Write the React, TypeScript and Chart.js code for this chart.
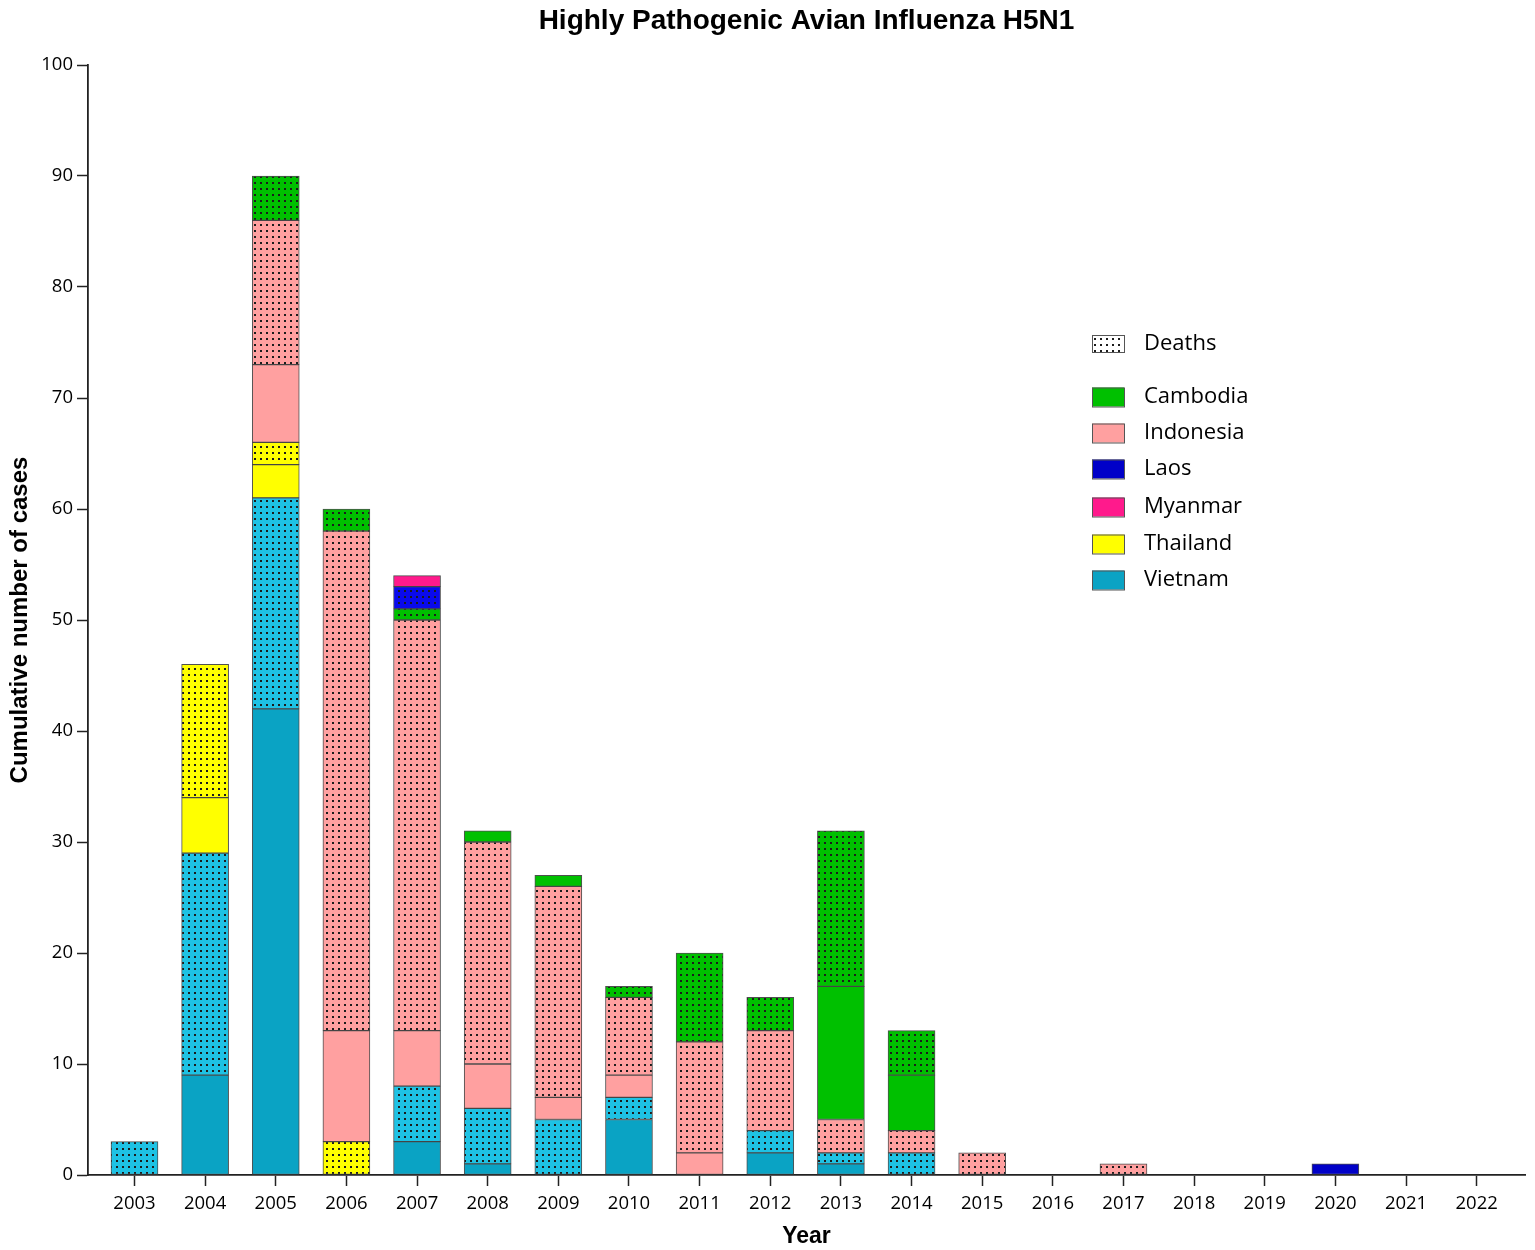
import React, { useEffect, useRef } from "react";
import { Chart, registerables } from "chart.js";

Chart.register(...registerables);

// ---------- data ----------
const years = [2003, 2004, 2005, 2006, 2007, 2008, 2009, 2010, 2011, 2012, 2013, 2014, 2015, 2016, 2017, 2018, 2019, 2020, 2021, 2022];

// non-fatal cases (solid) and deaths (dotted), per year
const vietnamCases = [0, 9, 42, 0, 3, 1, 0, 5, 0, 2, 1, 0, 0, 0, 0, 0, 0, 0, 0, 0];
const vietnamDeaths = [3, 20, 19, 0, 5, 5, 5, 2, 0, 2, 1, 2, 0, 0, 0, 0, 0, 0, 0, 0];
const thailandCases = [0, 5, 3, 0, 0, 0, 0, 0, 0, 0, 0, 0, 0, 0, 0, 0, 0, 0, 0, 0];
const thailandDeaths = [0, 12, 2, 3, 0, 0, 0, 0, 0, 0, 0, 0, 0, 0, 0, 0, 0, 0, 0, 0];
const indonesiaCases = [0, 0, 7, 10, 5, 4, 2, 2, 2, 0, 0, 0, 0, 0, 0, 0, 0, 0, 0, 0];
const indonesiaDeaths = [0, 0, 13, 45, 37, 20, 19, 7, 10, 9, 3, 2, 2, 0, 1, 0, 0, 0, 0, 0];
const cambodiaCases = [0, 0, 0, 0, 0, 1, 1, 0, 0, 0, 12, 5, 0, 0, 0, 0, 0, 0, 0, 0];
const cambodiaDeaths = [0, 0, 4, 2, 1, 0, 0, 1, 8, 3, 14, 4, 0, 0, 0, 0, 0, 0, 0, 0];
const laosCases = [0, 0, 0, 0, 0, 0, 0, 0, 0, 0, 0, 0, 0, 0, 0, 0, 0, 1, 0, 0];
const laosDeaths = [0, 0, 0, 0, 2, 0, 0, 0, 0, 0, 0, 0, 0, 0, 0, 0, 0, 0, 0, 0];
const myanmarCases = [0, 0, 0, 0, 1, 0, 0, 0, 0, 0, 0, 0, 0, 0, 0, 0, 0, 0, 0, 0];

const legendCountries = ["Cambodia", "Indonesia", "Laos", "Myanmar", "Thailand", "Vietnam"];

// ---------- styles ----------
const COL = {
  vietnam: "#0AA3C4",
  vietnamD: "#1EC2E4",
  thailand: "#FFFF00",
  indonesia: "#FFA0A0",
  cambodia: "#00C000",
  laos: "#0000C8",
  laosD: "#0A0AEC",
  myanmar: "#FF1A8C",
};
const legendColors = [COL.cambodia, COL.indonesia, COL.laos, COL.myanmar, COL.thailand, COL.vietnam];

const TICK_FONT = '"Open Sans", "DejaVu Sans", sans-serif';
const TITLE_FONT = '"Liberation Sans", Arial, sans-serif';

function makePattern(bg: string): CanvasPattern | string {
  const c = document.createElement("canvas");
  c.width = 6;
  c.height = 6;
  const x = c.getContext("2d");
  if (!x) return bg;
  x.fillStyle = bg;
  x.fillRect(0, 0, 6, 6);
  x.fillStyle = "#1c1c1c";
  x.fillRect(2, 2, 2, 2);
  const ctx = document.createElement("canvas").getContext("2d");
  return (ctx && ctx.createPattern(c, "repeat")) || bg;
}

const decorPlugin = {
  id: "decor",
  afterDraw(chart: any) {
    const ctx = chart.ctx as CanvasRenderingContext2D;
    const area = chart.chartArea;
    const cx = (area.left + area.right) / 2;
    ctx.save();
    ctx.fillStyle = "#000";
    // title
    ctx.font = `bold 28px ${TITLE_FONT}`;
    ctx.textAlign = "center";
    ctx.textBaseline = "alphabetic";
    ctx.fillText("Highly Pathogenic Avian Influenza H5N1", cx, 29);
    // x title
    ctx.font = `bold 23px ${TITLE_FONT}`;
    ctx.fillText("Year", cx, 1243);
    // y title
    ctx.save();
    ctx.translate(27, (area.top + area.bottom) / 2);
    ctx.rotate(-Math.PI / 2);
    ctx.font = `bold 24px ${TITLE_FONT}`;
    ctx.fillText("Cumulative number of cases", 0, 0);
    ctx.restore();

    // legend
    const bx = 1092;
    const bw = 32;
    const tx = 1144;
    ctx.textAlign = "left";
    ctx.textBaseline = "middle";
    ctx.font = `22px ${TICK_FONT}`;
    ctx.lineWidth = 1;
    ctx.strokeStyle = "#555";
    // deaths
    ctx.fillStyle = makePattern("#ffffff") as any;
    ctx.fillRect(bx, 335, bw, 17);
    ctx.strokeRect(bx + 0.5, 335.5, bw, 17);
    ctx.fillStyle = "#000";
    ctx.fillText("Deaths", tx, 344);
    const ys = [397, 433, 469, 507, 544, 580];
    legendCountries.forEach((name, i) => {
      const yc = ys[i];
      ctx.fillStyle = legendColors[i];
      ctx.fillRect(bx, yc - 9.5, bw, 19);
      ctx.strokeRect(bx + 0.5, yc - 9.5 + 0.5, bw, 19);
      ctx.fillStyle = "#000";
      ctx.fillText(name, tx, yc);
    });
    ctx.restore();
  },
};

export default function App() {
  const ref = useRef<HTMLCanvasElement>(null);

  useEffect(() => {
    const canvas = ref.current;
    if (!canvas) return;

    const defs = [
      { label: "Vietnam", values: vietnamCases, bg: COL.vietnam },
      { label: "Vietnam deaths", values: vietnamDeaths, bg: makePattern(COL.vietnamD) },
      { label: "Thailand", values: thailandCases, bg: COL.thailand },
      { label: "Thailand deaths", values: thailandDeaths, bg: makePattern(COL.thailand) },
      { label: "Indonesia", values: indonesiaCases, bg: COL.indonesia },
      { label: "Indonesia deaths", values: indonesiaDeaths, bg: makePattern(COL.indonesia) },
      { label: "Cambodia", values: cambodiaCases, bg: COL.cambodia },
      { label: "Cambodia deaths", values: cambodiaDeaths, bg: makePattern(COL.cambodia) },
      { label: "Laos", values: laosCases, bg: COL.laos },
      { label: "Laos deaths", values: laosDeaths, bg: makePattern(COL.laosD) },
      { label: "Myanmar", values: myanmarCases, bg: COL.myanmar },
    ];

    const datasets = defs.map((d) => ({
      label: d.label,
      data: years.map((yr, i) => ({ x: yr, y: d.values[i] })),
      backgroundColor: d.bg as any,
      borderColor: "rgba(60,60,60,0.9)",
      borderWidth: 1,
      borderSkipped: false as any,
      barThickness: 47,
    }));

    const chart = new Chart(canvas, {
      type: "bar",
      data: { datasets },
      options: {
        animation: false,
        responsive: false,
        devicePixelRatio: 1,
        layout: { padding: { top: 65, right: 10, bottom: 0, left: 0 } },
        plugins: {
          legend: { display: false },
          title: { display: false },
          tooltip: { enabled: false },
        },
        scales: {
          x: {
            type: "linear",
            stacked: true,
            offset: false,
            min: 2002.342,
            max: 2022.684,
            afterBuildTicks: (scale: any) => {
              scale.ticks = years.map((v) => ({ value: v }));
            },
            afterFit: (scale: any) => {
              scale.height = 75;
            },
            ticks: {
              autoSkip: false,
              maxRotation: 0,
              padding: 7,
              color: "#000",
              font: { family: TICK_FONT, size: 18.5 },
              callback: (v: any) => String(v),
            },
            grid: {
              display: true,
              offset: false,
              drawOnChartArea: false,
              drawTicks: true,
              tickLength: 11,
              tickWidth: 1.5,
              tickColor: "#222",
            },
            border: { display: true, color: "#222", width: 1.8 },
          },
          y: {
            type: "linear",
            stacked: true,
            min: 0,
            max: 100,
            afterFit: (scale: any) => {
              scale.width = 88;
            },
            ticks: {
              stepSize: 10,
              padding: 4,
              color: "#000",
              font: { family: TICK_FONT, size: 18.5 },
            },
            grid: {
              display: true,
              drawOnChartArea: false,
              drawTicks: true,
              tickLength: 11,
              tickWidth: 1.5,
              tickColor: "#222",
            },
            border: { display: true, color: "#222", width: 1.8 },
          },
        },
      } as any,
      plugins: [decorPlugin],
    });

    return () => chart.destroy();
  }, []);

  return (
    <div style={{ position: "absolute", left: 0, top: 0, width: 1535, height: 1250, background: "#fff" }}>
      <canvas ref={ref} width={1535} height={1250} style={{ width: 1535, height: 1250, display: "block" }} />
    </div>
  );
}
